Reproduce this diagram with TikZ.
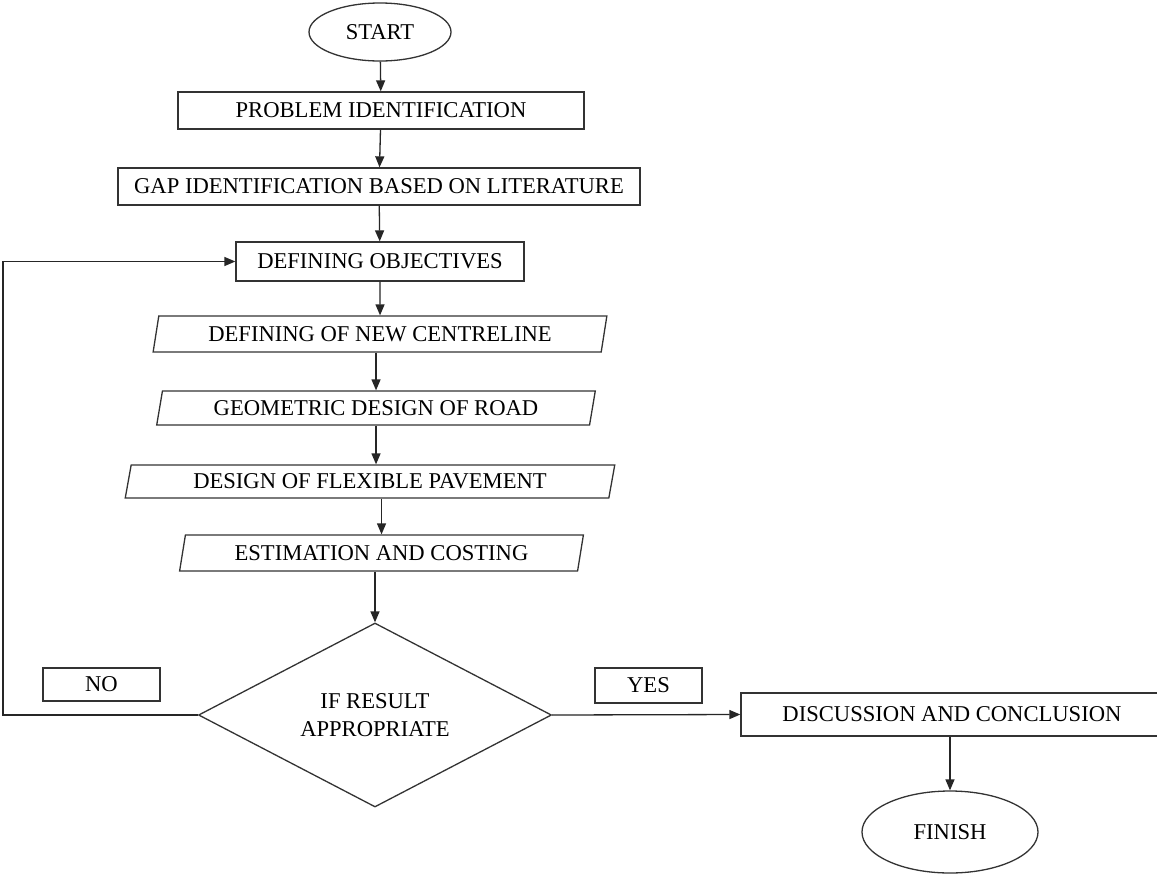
\documentclass[tikz,border=0pt]{standalone}
\usepackage{fontspec}
\setmainfont{Liberation Serif}
\usetikzlibrary{shapes.geometric,arrows.meta}
\tikzset{
  every node/.style={font=\fontsize{22.6}{28}\selectfont, inner sep=0pt, align=center},
  ln/.style={line width=1.3pt, draw=black!85},
  arr/.style={ln, -{Triangle[length=11pt,width=9pt]}},
  boxnode/.style={draw=black!80, line width=1.3pt, rectangle},
  term/.style={draw=black!80, line width=1.3pt, ellipse},
  iobox/.style={draw=black!80, line width=1.3pt, trapezium, trapezium stretches=true,
    trapezium left angle=74, trapezium right angle=106},
  decide/.style={draw=black!80, line width=1.3pt, diamond, aspect=1.92},
  lab/.style={draw=black!80, line width=1.3pt, rectangle}
}
\begin{document}
\begin{tikzpicture}[x=1pt,y=-1pt]
\useasboundingbox (0,0) rectangle (1157,876);
\fill[white] (0,0) rectangle (1157,876);
\node[term, minimum width=142pt, minimum height=58pt] (start) at (380,32) {START};
\node[boxnode, minimum width=406pt, minimum height=37pt] (prob) at (381,110.5) {PROBLEM IDENTIFICATION};
\node[boxnode, minimum width=522pt, minimum height=37pt] (gap) at (379,186.5) {GAP IDENTIFICATION BASED ON LITERATURE};
\node[boxnode, minimum width=288pt, minimum height=39pt] (obj) at (380,261.5) {DEFINING OBJECTIVES};
\node[iobox, minimum width=454pt, minimum height=36pt] (p1) at (380,334) {DEFINING OF NEW CENTRELINE};
\node[iobox, minimum width=440pt, minimum height=34pt] (p2) at (376,408) {GEOMETRIC DESIGN OF ROAD};
\node[iobox, minimum width=492pt, minimum height=33pt] (p3) at (370,481.5) {DESIGN OF FLEXIBLE PAVEMENT};
\node[iobox, minimum width=405pt, minimum height=36pt] (p4) at (381.5,553) {ESTIMATION AND COSTING};
\node[decide, minimum width=353pt, minimum height=184pt] (dia) at (375,715) {IF RESULT\\APPROPRIATE};
\node[lab, minimum width=117pt, minimum height=33pt] (no) at (101.5,684.5) {NO};
\node[lab, minimum width=107pt, minimum height=35pt] (yes) at (648.5,685.5) {YES};
\node[boxnode, minimum width=422pt, minimum height=43pt] (disc) at (952,714.5) {DISCUSSION AND CONCLUSION};
\node[term, minimum width=176pt, minimum height=82pt] (fin) at (950,832) {FINISH};
\coordinate (lp) at (3,715);
\draw[arr] (start) -- (prob);
\draw[arr] (prob) -- (gap);
\draw[arr] (gap) -- (obj);
\draw[arr] (obj) -- (p1);
\draw[arr] (p1.south -| p2.north) -- (p2.north);
\draw[arr] (p2.south) -- (p2.south |- p3.north);
\draw[arr] (p3.south -| p4.north) -- (p4.north);
\draw[arr] (p4.south -| dia.north) -- (dia.north);
\draw[arr] (dia.west) -- (lp) |- (obj.west);
\draw[arr] (dia.east) -- (disc.west);
\draw[arr] (disc.south -| fin.north) -- (fin.north);
\end{tikzpicture}
\end{document}
